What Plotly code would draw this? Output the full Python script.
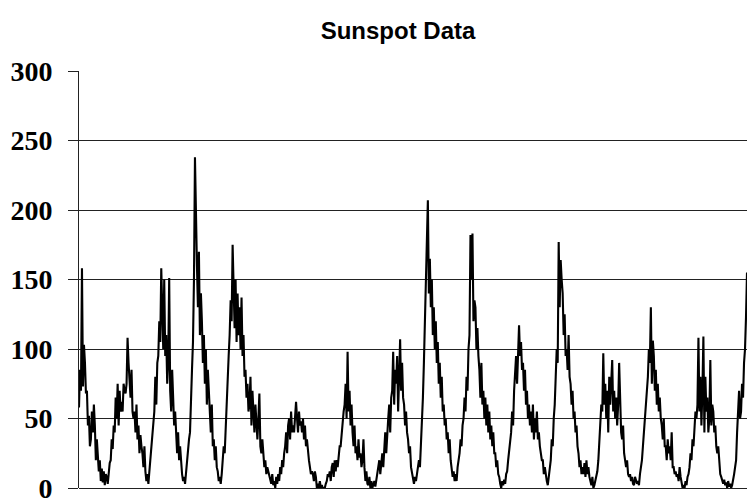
import plotly.graph_objects as go

# Sunspot numbers, four readings per year starting 1749.0
ssn_1749_1766 = [
    58, 85, 70, 158,   73, 103, 90, 68,   70, 45, 52, 30,   35, 55, 40, 60,
    45, 20, 35, 25,    12, 20, 5, 14,     4, 12, 2, 10,     8, 3, 14, 18,
    20, 35, 28, 45,    40, 65, 50, 75,    45, 70, 55, 62,   55, 75, 70, 68,
    75, 108, 90, 80,   65, 85, 55, 50,    55, 40, 60, 35,   45, 25, 38, 30,
    25, 15, 30, 12,    5, 10, 3, 12,
]
ssn_1767_1784 = [
    20, 30, 40, 45,    55, 80, 60, 90,    95, 120, 105, 158, 130, 100, 150, 95,
    110, 75, 90, 151,  70, 55, 85, 60,    45, 55, 35, 25,   40, 20, 30, 15,
    10, 5, 8, 3,       12, 20, 25, 35,    40, 70, 85, 105,  150, 238, 180, 160,
    130, 170, 110, 140, 120, 90, 110, 75, 100, 60, 85, 70,  55, 40, 60, 30,
    35, 20, 30, 15,    12, 5, 8, 3,
]
ssn_1785_1810 = [
    10, 20, 30, 25,    45, 60, 75, 95,    110, 135, 120, 175, 145, 115, 150, 105,
    140, 110, 130, 100, 137, 95, 110, 80,  85, 65, 75, 55,   60, 80, 45, 70,
    55, 40, 60, 45,    35, 50, 68, 30,    25, 35, 20, 15,   20, 10, 15, 12,
    8, 5, 3, 10,       2, 5, 0, 8,        3, 10, 5, 15,     10, 20, 15, 25,
    30, 40, 25, 45,    50, 35, 55, 40,    45, 40, 55, 62,   50, 40, 55, 45,
    48, 40, 50, 35,    45, 30, 35, 25,    20, 15, 10, 12,   10, 5, 12, 8,
    0, 3, 0, 5,        0, 2, 0, 0,
]
ssn_1811_1833 = [
    0, 3, 5, 10,       8, 12, 5, 15,      18, 8, 20, 12,    20, 15, 25, 30,
    30, 40, 50, 55,    60, 75, 50, 98,    55, 70, 45, 60,   40, 30, 45, 25,
    30, 20, 35, 22,    25, 15, 20, 35,    15, 5, 12, 3,     2, 8, 0, 5,
    0, 2, 5, 1,        5, 12, 15, 20,     10, 20, 25, 15,   30, 40, 25, 45,
    50, 60, 40, 65,    70, 98, 60, 85,    75, 95, 55, 80,   107, 70, 90, 65,
    60, 45, 55, 40,    35, 25, 30, 15,    10, 5, 3, 8,
]
ssn_1834_1855 = [
    5, 10, 15, 20,     15, 30, 45, 65,    90, 120, 150, 170, 207, 140, 165, 130,
    150, 110, 130, 100, 120, 90, 105, 75,  90, 65, 80, 55,   60, 45, 50, 35,
    40, 25, 35, 20,    15, 8, 12, 5,      10, 5, 15, 20,    25, 35, 30, 45,
    50, 65, 55, 80,    70, 100, 110, 182, 150, 183, 120, 135, 130, 100, 115, 95,
    85, 65, 90, 60,    70, 50, 65, 45,    60, 40, 55, 35,   45, 30, 40, 25,
    25, 15, 20, 10,    8, 3, 0, 5,
]
ssn_1856_1878 = [
    2, 6, 3, 10,       12, 20, 28, 35,    40, 55, 45, 70,   80, 95, 75, 100,
    117, 95, 105, 85,  90, 70, 85, 60,    70, 50, 60, 45,   55, 40, 60, 35,
    50, 40, 55, 35,    40, 30, 25, 20,    20, 10, 15, 8,    5, 2, 8, 15,
    20, 35, 30, 50,    60, 80, 100, 90,   177, 130, 164, 150, 140, 110, 125, 95,
    100, 85, 110, 80,  75, 60, 70, 50,    55, 40, 45, 30,   25, 15, 20, 10,
    15, 10, 18, 8,     20, 10, 15, 8,     5, 2, 8, 0,
]
ssn_1879_1901 = [
    2, 5, 10, 12,      20, 35, 50, 60,    55, 97, 60, 75,   50, 70, 40, 80,
    60, 75, 92, 55,    70, 50, 65, 45,    60, 90, 50, 40,   35, 45, 25, 20,
    15, 20, 10, 8,     10, 5, 8, 3,       2, 8, 5, 3,       5, 2, 10, 15,
    20, 30, 40, 50,    55, 70, 80, 100,   90, 130, 75, 106, 95, 70, 85, 60,
    75, 55, 65, 50,    45, 35, 50, 30,    30, 20, 35, 25,   30, 20, 40, 15,
    15, 10, 12, 8,     10, 5, 15, 8,      3, 0, 2, 0,
]
ssn_1902_1917 = [
    5, 2, 8, 10,       15, 25, 20, 35,    30, 45, 55, 50,   60, 108, 55, 80,
    45, 70, 109, 40,   80, 55, 65, 40,    50, 92, 45, 60,   55, 40, 45, 30,
    25, 30, 15, 10,    8, 5, 3, 6,        2, 4, 0, 5,       1, 3, 0, 2,
    5, 10, 15, 20,     40, 60, 70, 50,    55, 75, 65, 90,   100, 123, 155,
]

start_year = 1749
readings_per_year = 4
y_ticks = [0, 50, 100, 150, 200, 250, 300]
title_text = "Sunspot Data"

values = (ssn_1749_1766 + ssn_1767_1784 + ssn_1785_1810 + ssn_1811_1833
          + ssn_1834_1855 + ssn_1856_1878 + ssn_1879_1901 + ssn_1902_1917)
years = [start_year + i / readings_per_year for i in range(len(values))]

fig = go.Figure()
fig.add_trace(go.Scatter(
    x=years, y=values, mode="lines",
    line=dict(color="black", width=2.1),
    hoverinfo="x+y", showlegend=False,
))

fig.update_layout(
    width=747, height=499,
    margin=dict(l=79, r=0, t=71, b=11, autoexpand=False),
    paper_bgcolor="white", plot_bgcolor="white",
    title=dict(
        text="<b>" + title_text + "</b>",
        font=dict(family="Liberation Sans, Arial", size=24, color="black"),
        x=398 / 747, xanchor="center", xref="container",
        y=1 - 31 / 499, yanchor="middle", yref="container",
    ),
    xaxis=dict(
        range=[years[0], years[-1]],
        showgrid=False, zeroline=False, showticklabels=False,
        showline=False, ticks="", automargin=False,
    ),
    yaxis=dict(
        range=[0, 300],
        tickvals=y_ticks,
        ticktext=[str(v) for v in y_ticks],
        showgrid=True, gridcolor="#222222", gridwidth=1,
        zeroline=True, zerolinecolor="#222222", zerolinewidth=1,
        showline=True, linecolor="#222222", linewidth=1,
        ticks="outside", ticklen=10, tickcolor="#222222",
        ticklabelstandoff=10, automargin=False,
        ticklabeloverflow="allow",
        tickfont=dict(family="Liberation Serif, Times New Roman", size=28,
                      color="black", weight="bold"),
    ),
)

fig.write_html("out.html", config={"displayModeBar": False},
               post_script="document.body.style.margin='0';")
